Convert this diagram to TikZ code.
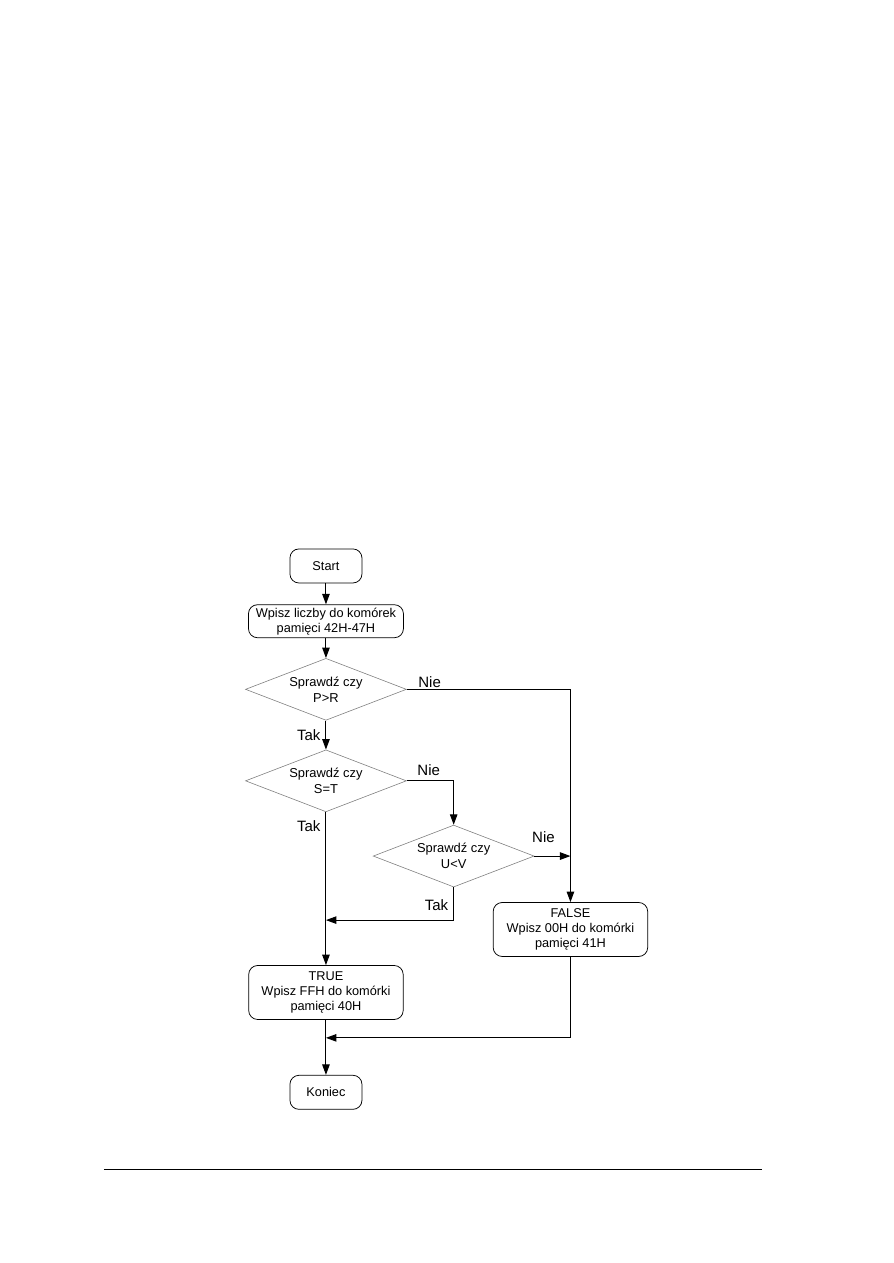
\documentclass[tikz,border=0pt]{standalone}
\usepackage{fontspec}
\setmainfont{Liberation Sans}
\usetikzlibrary{shapes.geometric, arrows.meta, positioning, calc}
\newcommand{\boxfont}{\fontsize{8.5}{10}\selectfont}
\tikzstyle{startstop} = [rectangle, rounded corners=6pt, minimum width=48pt, minimum height=22.7pt,
                         text centered, draw=black, line width=0.5pt, font=\boxfont]
\tikzstyle{process}   = [rectangle, rounded corners=6pt, minimum width=103.3pt, minimum height=22pt,
                         align=center, inner sep=1pt, draw=black, line width=0.5pt, font=\boxfont]
\tikzstyle{result}    = [rectangle, rounded corners=6pt, minimum width=103pt, minimum height=36pt,
                         align=center, inner sep=1pt, draw=black, line width=0.5pt, font=\boxfont]
\tikzstyle{decision}  = [diamond, aspect=2.8, minimum width=107.3pt, minimum height=41.3pt, inner sep=0pt,
                         align=center, draw=gray, line width=0.4pt,
                         font=\fontsize{8.6}{10.6}\selectfont]
\tikzstyle{arrow}     = [-{Triangle[length=7pt, width=5pt]}, line width=0.7pt]

\begin{document}
\begin{tikzpicture}[every node/.style={font=\fontsize{10}{12}\selectfont}]
  \useasboundingbox (0,0) rectangle (595.33pt,-842pt);

  \node (start)  [startstop] at (217.3pt,-377.3pt) {Start};
  \node (wpisz)  [process, below=14pt of start]    {Wpisz liczby do komórek\\pamięci 42H-47H};
  \node (chk1)   [decision, below=13.3pt of wpisz] {Sprawdź czy\\P>R};
  \node (chk2)   [decision, below=19.3pt of chk1]  {Sprawdź czy\\S=T};
  \node (chk3)   [decision, anchor=north] at ($(chk2.east)+(31.3pt,-29.3pt)$) {Sprawdź czy\\U<V};
  \node (false)  [result, anchor=north] at ($(chk3.east)+(24pt,-30.7pt)$)
                 {FALSE\\Wpisz 00H do komórki\\pamięci 41H};
  \node (true)   [result, below=102pt of chk2]     {TRUE\\Wpisz FFH do komórki\\pamięci 40H};
  \node (koniec) [startstop, below=36.7pt of true] {Koniec};

  \coordinate (mrg1) at ($(true.north)+(0,30pt)$);
  \coordinate (mrg2) at ($(koniec.north)+(0,24.7pt)$);
  \coordinate (mrg3) at (chk3.east -| false.north);

  \draw [arrow] (start) -- (wpisz);
  \draw [arrow] (wpisz) -- (chk1);
  \draw [arrow] (chk1) -- node[left] {Tak} (chk2);
  \draw [arrow] (chk1.east) -| node[above, pos=0.07, inner sep=1pt] {Nie} (false.north);
  \draw [arrow] (chk2.east) -| node[above, pos=0.234] {Nie} (chk3.north);
  \draw [arrow] (chk2.south) -- node[left, pos=0.09] {Tak} (true.north);
  \draw [arrow] (chk3.east) -- node[above=5pt, pos=0.25] {Nie} (mrg3);
  \draw [arrow] (chk3.south) |- node[left, pos=0.27] {Tak} (mrg1);
  \draw [arrow] (false.south) |- (mrg2);
  \draw [arrow] (true) -- (koniec);

  % page rule
  \draw [line width=0.6pt] (69.3pt,-779.3pt) -- (508pt,-779.3pt);
\end{tikzpicture}
\end{document}
